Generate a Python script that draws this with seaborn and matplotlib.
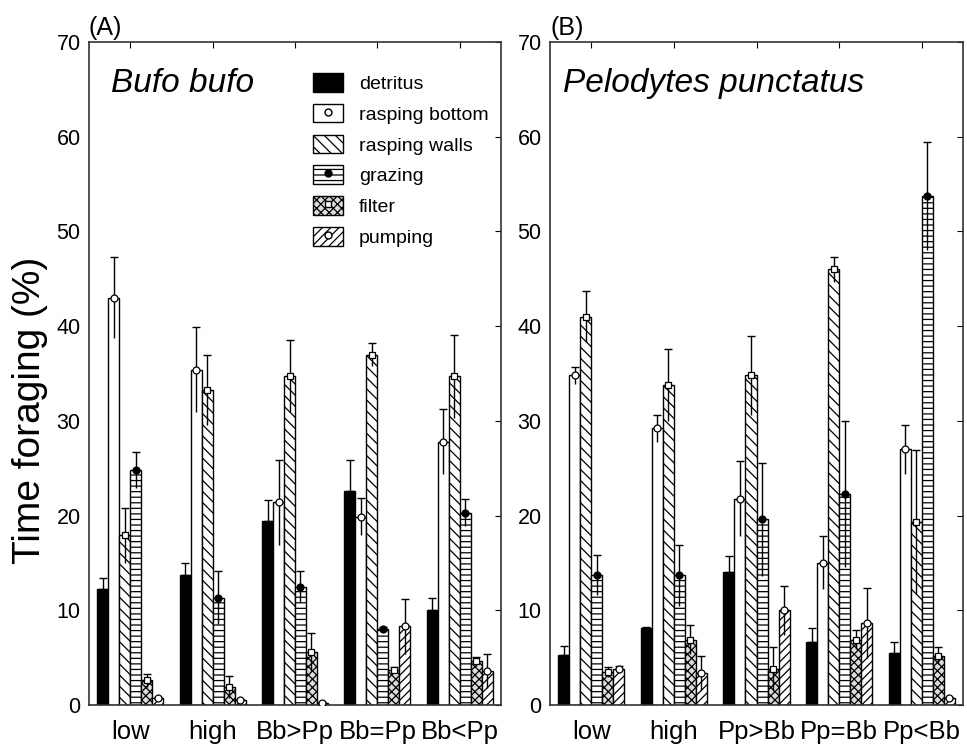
import numpy as np
import pandas as pd
import matplotlib
matplotlib.use("Agg")
import matplotlib.pyplot as plt
import seaborn as sns
from matplotlib.patches import Patch
from matplotlib.lines import Line2D
from matplotlib.legend_handler import HandlerTuple

behaviours = ["detritus", "rasping bottom", "rasping walls", "grazing", "filter", "pumping"]

cats_a = ["low", "high", "Bb>Pp", "Bb=Pp", "Bb<Pp"]
cats_b = ["low", "high", "Pp>Bb", "Pp=Bb", "Pp<Bb"]

# Bufo bufo (A): mean per behaviour, per treatment
a_detritus = [12.3, 13.7, 19.4, 22.6, 10.0]
a_rbottom = [43.0, 35.4, 21.4, 19.9, 27.8]
a_rwalls = [17.9, 33.3, 34.7, 37.0, 34.7]
a_grazing = [24.8, 11.3, 12.5, 8.0, 20.3]
a_filter = [2.6, 1.9, 5.6, 3.7, 4.6]
a_pumping = [0.7, 0.5, 0.2, 8.3, 3.6]

a_err_detritus = [1.1, 1.3, 2.2, 3.3, 1.3]
a_err_rbottom = [4.3, 4.5, 4.5, 2.0, 3.4]
a_err_rwalls = [2.9, 3.7, 3.8, 1.2, 4.4]
a_err_grazing = [1.9, 2.8, 1.6, 0.2, 1.4]
a_err_filter = [0.7, 1.2, 2.0, 0.3, 0.5]
a_err_pumping = [0.1, 0.1, 0.1, 2.9, 1.8]

# Pelodytes punctatus (B)
b_detritus = [5.3, 8.1, 14.0, 6.7, 5.5]
b_rbottom = [34.8, 29.2, 21.8, 15.0, 27.0]
b_rwalls = [41.0, 33.8, 34.8, 46.0, 19.3]
b_grazing = [13.7, 13.7, 19.6, 22.3, 53.7]
b_filter = [3.5, 6.9, 3.8, 6.9, 5.2]
b_pumping = [3.8, 3.4, 10.0, 8.7, 0.7]

b_err_detritus = [0.9, 0.1, 1.7, 1.4, 1.2]
b_err_rbottom = [0.9, 1.4, 4.0, 2.8, 2.6]
b_err_rwalls = [2.7, 3.8, 4.2, 1.3, 7.6]
b_err_grazing = [2.1, 3.2, 6.0, 7.7, 5.7]
b_err_filter = [0.5, 1.5, 2.3, 1.0, 0.9]
b_err_pumping = [0.3, 1.8, 2.6, 3.7, 0.1]

y_ticks = [0, 10, 20, 30, 40, 50, 60, 70]

facecolors = ["black", "white", "white", "white", "#dcdcdc", "white"]
hatches = [None, None, "\\\\\\", "---", "xxxx", "////"]
markers = [None, ("o", "white"), ("s", "white"), ("o", "black"), ("s", "white"), ("o", "white")]

plt.rcParams["font.family"] = ["Liberation Sans", "DejaVu Sans"]
plt.rcParams["hatch.linewidth"] = 0.9


def make_df(cats, vals):
    rows = []
    for b, v in zip(behaviours, vals):
        for c, x in zip(cats, v):
            rows.append({"cat": c, "behaviour": b, "value": x})
    return pd.DataFrame(rows)


fig = plt.figure(figsize=(9.67, 7.45), dpi=100)
ax_a = fig.add_axes([89 / 967, 1 - 705 / 745, 412 / 967, 663 / 745])
ax_b = fig.add_axes([550 / 967, 1 - 705 / 745, 413 / 967, 663 / 745])

panels = [
    (ax_a, cats_a,
     [a_detritus, a_rbottom, a_rwalls, a_grazing, a_filter, a_pumping],
     [a_err_detritus, a_err_rbottom, a_err_rwalls, a_err_grazing, a_err_filter, a_err_pumping],
     "(A)", "Bufo bufo", 0.053),
    (ax_b, cats_b,
     [b_detritus, b_rbottom, b_rwalls, b_grazing, b_filter, b_pumping],
     [b_err_detritus, b_err_rbottom, b_err_rwalls, b_err_grazing, b_err_filter, b_err_pumping],
     "(B)", "Pelodytes punctatus", 0.032),
]

for ax, cats, vals, errs, tag, species, sx in panels:
    df = make_df(cats, vals)
    sns.barplot(data=df, x="cat", y="value", hue="behaviour", order=cats,
                hue_order=behaviours, palette=facecolors, edgecolor="black",
                linewidth=1.0, width=0.8, errorbar=None, legend=False, ax=ax,
                saturation=1)
    bar_containers = list(ax.containers)
    for i, cont in enumerate(bar_containers):
        xs, ys = [], []
        for p in cont.patches:
            p.set_facecolor(facecolors[i])
            p.set_edgecolor("black")
            if hatches[i]:
                p.set_hatch(hatches[i])
            xs.append(p.get_x() + p.get_width() / 2)
            ys.append(p.get_height())
        e = np.array(errs[i])
        z = np.zeros_like(e)
        # upper whisker with cap
        ax.errorbar(xs, ys, yerr=[z, e], fmt="none", ecolor="black",
                    elinewidth=1.0, capsize=3, capthick=1.0, zorder=3)
        # lower whisker, no cap
        ax.errorbar(xs, ys, yerr=[e, z], fmt="none", ecolor="black",
                    elinewidth=1.0, capsize=0, zorder=3)
        if markers[i]:
            m, c = markers[i]
            ax.plot(xs, ys, linestyle="none", marker=m, markersize=5,
                    markerfacecolor=c, markeredgecolor="black",
                    markeredgewidth=0.9, zorder=4)
    ax.set_xlim(-0.5, 4.5)
    ax.set_ylim(0, 70)
    ax.set_yticks(y_ticks)
    ax.set_yticklabels([str(t) for t in y_ticks], fontsize=15.5)
    ax.set_xlabel("")
    ax.set_ylabel("")
    ax.tick_params(axis="x", labelsize=18.5, direction="in", length=4,
                   top=True, bottom=False, pad=11)
    ax.tick_params(axis="y", direction="in", length=4, right=True, left=False,
                   pad=6)
    for s in ax.spines.values():
        s.set_linewidth(1.2)
        s.set_color("#333333")
    ax.text(0.0, 1.003, tag, transform=ax.transAxes, fontsize=18,
            ha="left", va="bottom")
    ax.text(sx, 0.925, species, transform=ax.transAxes, fontsize=24,
            style="italic", ha="left", va="baseline")

ax_a.set_ylabel("Time foraging (%)", fontsize=28)
ax_a.yaxis.set_label_coords(-0.10, 0.445)

handles = []
for i, b in enumerate(behaviours):
    patch = Patch(facecolor=facecolors[i], edgecolor="black",
                  hatch=hatches[i], linewidth=1.0)
    if markers[i] and i != 2:
        m, c = markers[i]
        ln = Line2D([], [], linestyle="none", marker=m, markersize=5,
                    markerfacecolor=c, markeredgecolor="black")
        handles.append((patch, ln))
    else:
        handles.append(patch)

ax_a.legend(handles, behaviours, loc="upper left",
            bbox_to_anchor=(0.525, 0.965), frameon=False, fontsize=14,
            handlelength=1.55, handleheight=1.1, labelspacing=0.56,
            handletextpad=0.8, borderaxespad=0,
            handler_map={tuple: HandlerTuple(ndivide=1)})

fig.savefig("out.png", dpi=100)
